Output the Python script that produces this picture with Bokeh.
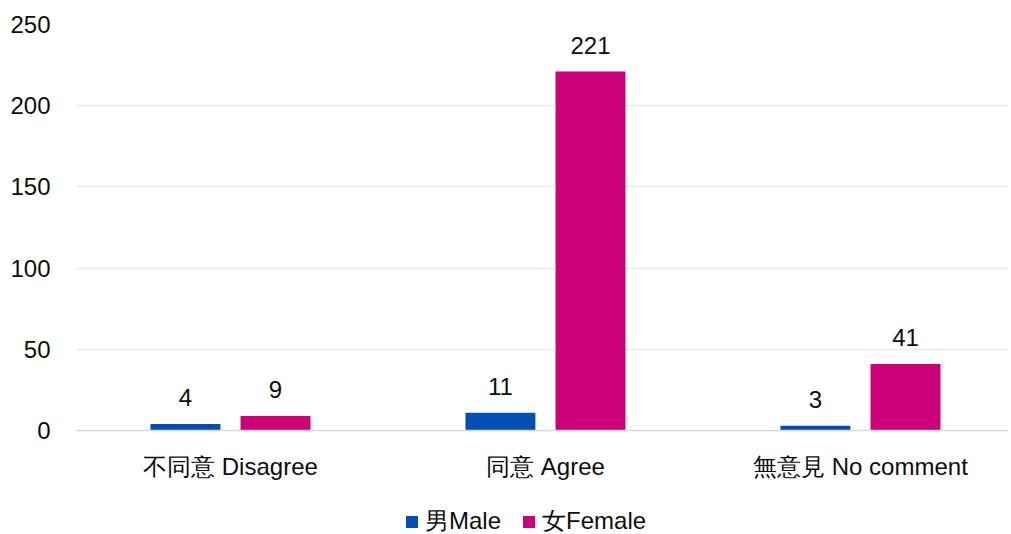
from bokeh.plotting import figure
from bokeh.models import ColumnDataSource, Range1d, FixedTicker, Legend, LegendItem, LabelSet
from bokeh.core.properties import value
from bokeh.embed import file_html
from bokeh.resources import INLINE

categories = ["不同意 Disagree", "同意 Agree", "無意見 No comment"]
male = [4, 11, 3]
female = [9, 221, 41]
series_names = ["男Male", "女Female"]
y_ticks = [0, 50, 100, 150, 200, 250]

BLUE = "#0050B4"
PINK = "#CC0077"
FONT = "Liberation Sans"
TXT = "#0d0d0d"

W, H = 1008, 534
TOP, LEFT = 24, 75
ZERO_Y = 430  # pixel row of value 0
y_max = 250
y_min = -y_max * (H - ZERO_Y) / (ZERO_Y - TOP)

idx = list(range(len(categories)))
offset = 0.143
bw = 0.222

src_m = ColumnDataSource(dict(x=[i - offset for i in idx], top=male, lab=[str(v) for v in male]))
src_f = ColumnDataSource(dict(x=[i + offset for i in idx], top=female, lab=[str(v) for v in female]))

p = figure(width=W, height=H, output_backend="svg", toolbar_location=None,
           x_range=Range1d(-0.492, 2.470), y_range=Range1d(y_min, y_max),
           min_border_left=LEFT, min_border_right=0, min_border_top=TOP, min_border_bottom=0)
p.outline_line_color = None
p.background_fill_color = "white"
p.border_fill_color = "white"

rm = p.vbar(x="x", top="top", width=bw, source=src_m, fill_color=BLUE, line_color=None)
rf = p.vbar(x="x", top="top", width=bw, source=src_f, fill_color=PINK, line_color=None)

for s in (src_m, src_f):
    lbl = LabelSet(x="x", y="top", text="lab", source=s, text_align="center",
                   text_baseline="bottom", y_offset=18, text_font=value(FONT),
                   text_font_size="24px", text_color=TXT)
    p.add_layout(lbl)

# axes
p.xaxis.fixed_location = 0
p.xaxis.ticker = FixedTicker(ticks=idx)
p.xaxis.major_label_overrides = {i: c for i, c in zip(idx, categories)}
p.xaxis.major_tick_line_color = None
p.xaxis.minor_tick_line_color = None
p.xaxis.axis_line_color = "#D9D9D9"
p.xaxis.axis_line_width = 1.5
p.xaxis.major_label_text_font = FONT
p.xaxis.major_label_text_font_size = "24px"
p.xaxis.major_label_text_color = TXT
p.xaxis.major_label_standoff = 16

p.yaxis.ticker = FixedTicker(ticks=y_ticks)
p.yaxis.major_tick_line_color = None
p.yaxis.minor_tick_line_color = None
p.yaxis.axis_line_color = None
p.yaxis.major_label_text_font = FONT
p.yaxis.major_label_text_font_size = "24px"
p.yaxis.major_label_text_color = TXT
p.yaxis.major_label_standoff = 19

p.xgrid.grid_line_color = None
p.ygrid.ticker = FixedTicker(ticks=y_ticks[1:])
p.ygrid.grid_line_color = "#EBEBEB"
p.ygrid.grid_line_width = 1.5

legend = Legend(items=[LegendItem(label=series_names[0], renderers=[rm]),
                       LegendItem(label=series_names[1], renderers=[rf])],
                orientation="horizontal", location=(329, -3),
                glyph_width=15, glyph_height=15, label_standoff=6, spacing=20,
                label_text_font=FONT, label_text_font_size="24px", label_text_color=TXT,
                border_line_color=None, background_fill_alpha=0, margin=0, padding=0)
p.add_layout(legend, "center")

open("out.html", "w").write(file_html(p, INLINE))
